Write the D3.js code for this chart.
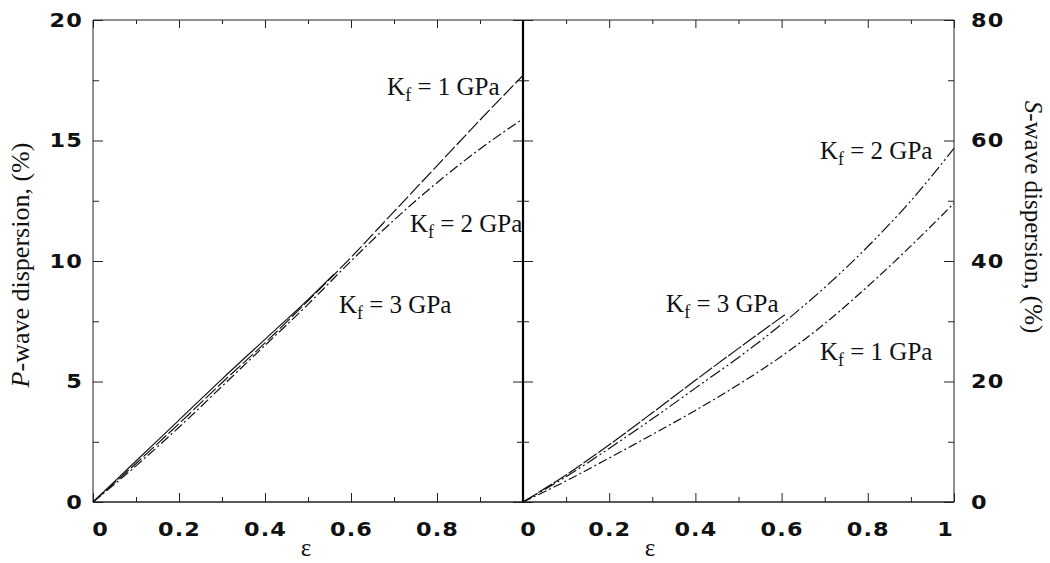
<!DOCTYPE html>
<html>
<head>
<meta charset="utf-8">
<script src="https://cdn.jsdelivr.net/npm/d3@7"></script>
<style>
  html, body { margin: 0; padding: 0; background: #fff; }
  svg { display: block; }
</style>
</head>
<body>
<svg id="chart" width="1050" height="563"></svg>
<script>
// ---------- data ----------
const eps = [0, 0.1, 0.2, 0.3, 0.4, 0.5, 0.6, 0.7, 0.8, 0.9, 1.0];

// P-wave dispersion (%)
const pKf1 = [0, 1.6, 3.25, 4.95, 6.6, 8.35, 10.15, 12.05, 13.95, 15.85, 17.7];
const pKf2 = [0, 1.5, 3.1, 4.8, 6.5, 8.2, 10.0, 11.7, 13.25, 14.65, 15.9];
const pKf3Eps = [0, 0.1, 0.2, 0.3, 0.4, 0.5, 0.56];
const pKf3 = [0, 1.7, 3.4, 5.1, 6.75, 8.4, 9.45];

// S-wave dispersion (%)
const sKf1 = [0, 3.5, 7.3, 11.2, 15.2, 19.5, 24.2, 29.6, 35.8, 42.5, 49.6];
const sKf2 = [0, 4.2, 8.9, 13.8, 18.9, 24.0, 29.5, 35.6, 42.4, 50.0, 58.7];
const sKf3Eps = [0, 0.1, 0.2, 0.3, 0.4, 0.5, 0.61];
const sKf3 = [0, 4.5, 9.5, 14.8, 20.2, 25.5, 31.2];

// tick values
const xTicksLeft = [0, 0.2, 0.4, 0.6, 0.8];
const xTicksRight = [0, 0.2, 0.4, 0.6, 0.8, 1];
const xMinor = [0.1, 0.3, 0.5, 0.7, 0.9];
const xMajorAll = [0, 0.2, 0.4, 0.6, 0.8, 1];
const yTicksP = [0, 5, 10, 15, 20];
const yMinorP = [2.5, 7.5, 12.5, 17.5];
const yTicksS = [0, 20, 40, 60, 80];
const yMinorS = [10, 30, 50, 70];

// curve annotations (anchor in data units of each panel)
const labelsP = [
  { kf: "1", e: 0.684, v: 16.9 },
  { kf: "2", e: 0.737, v: 11.2 },
  { kf: "3", e: 0.572, v: 7.84 }
];
const labelsS = [
  { kf: "2", e: 0.689, v: 56.9 },
  { kf: "1", e: 0.689, v: 23.6 },
  { kf: "3", e: 0.332, v: 31.5 }
];

// ---------- layout ----------
const svg = d3.select("#chart");
const yTop = 20, yBottom = 502;
const xL = d3.scaleLinear().domain([0, 1]).range([93, 523]);
const xR = d3.scaleLinear().domain([0, 1]).range([523, 954]);
const yL = d3.scaleLinear().domain([0, 20]).range([yBottom, yTop]);
const yR = d3.scaleLinear().domain([0, 80]).range([yBottom, yTop]);

const numFont = "'DejaVu Sans', sans-serif";
const serif = "'Liberation Serif', 'Times New Roman', serif";
const stretch = 1.12;

function styleAxis(g, labels) {
  g.select(".domain").remove();
  g.selectAll(".tick line").attr("stroke", "#222").attr("stroke-width", 1);
  g.selectAll(".tick text")
    .attr("fill", "#111")
    .style("font-family", numFont)
    .style("font-weight", "bold")
    .style("font-size", "20px")
    .style("letter-spacing", "1px");
  if (!labels) g.selectAll(".tick text").remove();
}

function addAxis(axis, tx, ty, labels) {
  const g = svg.append("g").attr("transform", `translate(${tx},${ty})`).call(axis);
  styleAxis(g, labels);
  return g;
}

// bottom axes
const gbL = addAxis(d3.axisBottom(xL).tickValues(xTicksLeft).tickSize(-9).tickSizeOuter(0).tickPadding(20).tickFormat(d3.format("")), 0, yBottom, true);
addAxis(d3.axisBottom(xL).tickValues(xMinor).tickSize(-5).tickSizeOuter(0), 0, yBottom, false);
const gbR = addAxis(d3.axisBottom(xR).tickValues(xTicksRight).tickSize(-9).tickSizeOuter(0).tickPadding(20).tickFormat(d3.format("")), 0, yBottom, true);
addAxis(d3.axisBottom(xR).tickValues(xMinor).tickSize(-5).tickSizeOuter(0), 0, yBottom, false);

// top axes (ticks only)
addAxis(d3.axisTop(xL).tickValues(xMajorAll).tickSize(-8).tickSizeOuter(0), 0, yTop, false);
addAxis(d3.axisTop(xL).tickValues(xMinor).tickSize(-4).tickSizeOuter(0), 0, yTop, false);
addAxis(d3.axisTop(xR).tickValues(xMajorAll).tickSize(-8).tickSizeOuter(0), 0, yTop, false);
addAxis(d3.axisTop(xR).tickValues(xMinor).tickSize(-4).tickSizeOuter(0), 0, yTop, false);

// left y axis (P)
const gyL = addAxis(d3.axisLeft(yL).tickValues(yTicksP).tickSize(-10).tickSizeOuter(0).tickPadding(10).tickFormat(d3.format("")), xL(0), 0, true);
addAxis(d3.axisLeft(yL).tickValues(yMinorP).tickSize(-6).tickSizeOuter(0), xL(0), 0, false);
// middle line ticks: P panel (pointing left) and S panel (pointing right)
addAxis(d3.axisRight(yL).tickValues(yTicksP).tickSize(-10).tickSizeOuter(0), xL(1), 0, false);
addAxis(d3.axisRight(yL).tickValues(yMinorP).tickSize(-6).tickSizeOuter(0), xL(1), 0, false);
addAxis(d3.axisLeft(yR).tickValues(yTicksS).tickSize(-10).tickSizeOuter(0), xR(0), 0, false);
addAxis(d3.axisLeft(yR).tickValues(yMinorS).tickSize(-6).tickSizeOuter(0), xR(0), 0, false);
// right y axis (S)
const gyR = addAxis(d3.axisRight(yR).tickValues(yTicksS).tickSize(-10).tickSizeOuter(0).tickPadding(17).tickFormat(d3.format("")), xR(1), 0, true);
addAxis(d3.axisRight(yR).tickValues(yMinorS).tickSize(-6).tickSizeOuter(0), xR(1), 0, false);

// stretch the geometric-looking tick numbers horizontally
gbL.selectAll(".tick text").attr("transform", d => `translate(${d === 0 ? 7 : 0},0) scale(${stretch},1)`);
gbR.selectAll(".tick text").attr("transform", d => `translate(${d === 0 ? 5 : (d === 1 ? -9 : 0)},0) scale(${stretch},1)`);
gyL.selectAll(".tick text").attr("x", null).attr("transform", `translate(-10,0) scale(${stretch},1)`);
gyR.selectAll(".tick text").attr("x", null).attr("transform", `translate(17,0) scale(${stretch},1)`);

// frames
const frame = svg.append("g").attr("fill", "none").attr("stroke", "#222");
frame.append("line").attr("x1", xL(0)).attr("x2", xR(1)).attr("y1", yTop).attr("y2", yTop).attr("stroke-width", 1);
frame.append("line").attr("x1", xL(0)).attr("x2", xR(1)).attr("y1", yBottom).attr("y2", yBottom).attr("stroke-width", 1.6);
frame.append("line").attr("x1", xL(0)).attr("x2", xL(0)).attr("y1", yTop).attr("y2", yBottom).attr("stroke-width", 1);
frame.append("line").attr("x1", xR(1)).attr("x2", xR(1)).attr("y1", yTop).attr("y2", yBottom).attr("stroke-width", 1);
frame.append("line").attr("x1", xL(1)).attr("x2", xL(1)).attr("y1", yTop).attr("y2", yBottom).attr("stroke-width", 2.2).attr("stroke", "#000");

// ---------- curves ----------
function drawCurve(xs, ys, xScale, yScale, dash) {
  const pts = xs.map((e, i) => [e, ys[i]]);
  const line = d3.line().x(d => xScale(d[0])).y(d => yScale(d[1])).curve(d3.curveMonotoneX);
  svg.append("path")
    .attr("d", line(pts))
    .attr("fill", "none")
    .attr("stroke", "#111")
    .attr("stroke-width", 1.2)
    .attr("stroke-dasharray", dash);
}

drawCurve(eps, pKf1, xL, yL, "14,3");
drawCurve(eps, pKf2, xL, yL, "10,3,2,3");
drawCurve(pKf3Eps, pKf3, xL, yL, null);

drawCurve(eps, sKf1, xR, yR, "9,3,2,3");
drawCurve(eps, sKf2, xR, yR, "12,3,2,3,2,3");
drawCurve(sKf3Eps, sKf3, xR, yR, "16,2");

// ---------- annotations ----------
function addLabel(d, xScale, yScale) {
  const t = svg.append("text")
    .attr("x", xScale(d.e)).attr("y", yScale(d.v))
    .attr("fill", "#111")
    .style("font-family", serif)
    .style("font-size", "25px");
  t.append("tspan").text("K");
  t.append("tspan").attr("dy", 6).style("font-size", "18px").text("f");
  t.append("tspan").attr("dy", -6).text(` = ${d.kf} GPa`);
}
labelsP.forEach(d => addLabel(d, xL, yL));
labelsS.forEach(d => addLabel(d, xR, yR));

// ---------- axis titles ----------
const yLab = svg.append("text")
  .attr("transform", "translate(29,265) rotate(-90)")
  .attr("text-anchor", "middle")
  .attr("fill", "#111")
  .style("font-family", serif)
  .style("font-size", "26px");
yLab.append("tspan").style("font-style", "italic").text("P");
yLab.append("tspan").text("-wave dispersion, (%)");

const yLab2 = svg.append("text")
  .attr("transform", "translate(1025,217) rotate(90)")
  .attr("text-anchor", "middle")
  .attr("fill", "#111")
  .style("font-family", serif)
  .style("font-size", "25px");
yLab2.append("tspan").style("font-style", "italic").text("S");
yLab2.append("tspan").text("-wave dispersion, (%)");

svg.append("text").attr("x", 306).attr("y", 556).attr("text-anchor", "middle")
  .attr("fill", "#111").style("font-family", serif).style("font-size", "25px").text("ε");
svg.append("text").attr("x", 650).attr("y", 556).attr("text-anchor", "middle")
  .attr("fill", "#111").style("font-family", serif).style("font-size", "25px").text("ε");
</script>
</body>
</html>
